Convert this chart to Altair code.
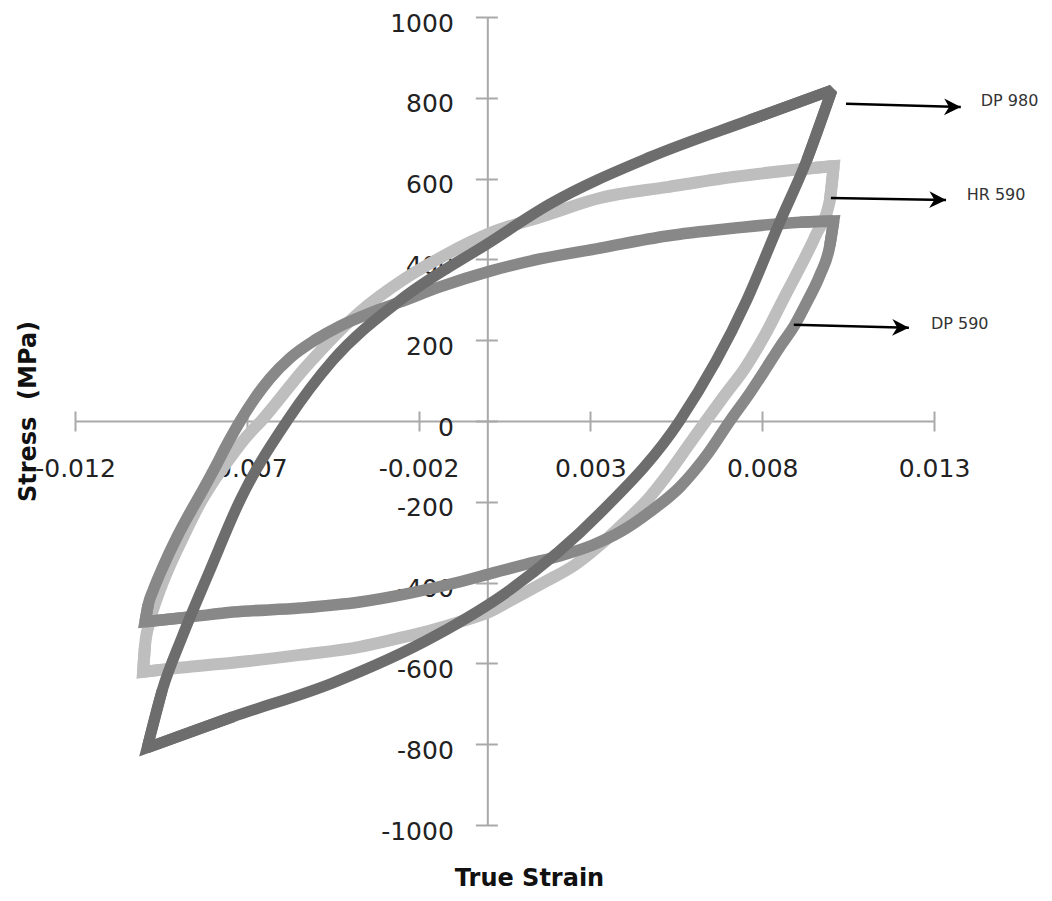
import altair as alt
import pandas as pd

# ---------------- data ----------------
# Each loop = rising branch (compression tip -> tension tip) + falling branch (tension tip -> compression tip)
# DP 980
dp980_up_strain = [-0.00990, -0.00946, -0.00888, -0.00807, -0.00719, -0.00583, -0.00449, -0.00254,
                   0.00008, 0.00182, 0.00473, 0.00764, 0.01003]
dp980_up_stress = [-809, -666, -534, -369, -195, 0, 151, 299, 443, 537, 653, 745, 819]
dp980_dn_strain = [0.01003, 0.00930, 0.00851, 0.00755, 0.00561, 0.00328, 0.00066, -0.00152, -0.00449,
                   -0.00740, -0.00990]
dp980_dn_stress = [819, 646, 492, 299, 2, -228, -418, -532, -648, -732, -809]

# HR 590
hr590_up_strain = [-0.01002, -0.00996, -0.00981, -0.00958, -0.00923, -0.00882, -0.00842, -0.00798,
                   -0.00749, -0.00702, -0.00656, -0.00531, -0.00371, -0.00246, -0.00129, 0.00017,
                   0.00162, 0.00328, 0.00523, 0.00715, 0.00910, 0.01008]
hr590_up_stress = [-621, -554, -492, -430, -356, -282, -213, -151, -92, -40, 2, 131, 270, 349, 408, 468,
                   507, 552, 579, 604, 623, 631]
hr590_dn_strain = [0.01008, 0.00997, 0.00956, 0.00909, 0.00860, 0.00808, 0.00750, 0.00691, 0.00636,
                   0.00584, 0.00526, 0.00468, 0.00400, 0.00328, 0.00255, 0.00168, 0.00081, 0.00005,
                   -0.00079, -0.00158, -0.00254, -0.00371, -0.00545, -0.00691, -0.00836, -0.00953, -0.01002]
hr590_dn_stress = [631, 547, 460, 379, 299, 213, 131, 64, 0, -62, -131, -193, -250, -307, -356, -398,
                   -438, -473, -497, -517, -537, -559, -579, -594, -606, -616, -621]

# DP 590
dp590_up_strain = [-0.00996, -0.00987, -0.00972, -0.00944, -0.00903, -0.00866, -0.00828, -0.00793,
                   -0.00755, -0.00719, -0.00676, -0.00632, -0.00574, -0.00502, -0.00429, -0.00342,
                   -0.00255, -0.00138, 0.00008, 0.00153, 0.00328, 0.00523, 0.00715, 0.00910, 0.01008]
dp590_up_stress = [-497, -455, -418, -361, -287, -228, -171, -116, -54, 0, 57, 106, 156, 200, 235, 267,
                   294, 332, 371, 401, 428, 458, 477, 492, 495]
dp590_dn_strain = [0.01008, 0.00997, 0.00968, 0.00933, 0.00895, 0.00851, 0.00808, 0.00764, 0.00706,
                   0.00639, 0.00561, 0.00473, 0.00386, 0.00307, 0.00211, 0.00115, 0.00017, -0.00079,
                   -0.00225, -0.00371, -0.00545, -0.00740, -0.00865, -0.00996]
dp590_dn_stress = [495, 435, 361, 299, 238, 183, 126, 69, 0, -84, -163, -225, -275, -307, -334, -354,
                   -376, -398, -426, -448, -463, -473, -485, -497]

# annotation arrows and labels
label_names = ["DP 980", "HR 590", "DP 590"]
arrow_x0 = [0.01044, 0.01000, 0.00892]
arrow_y0 = [785, 552, 238]
arrow_x1 = [0.01378, 0.01335, 0.01227]
arrow_y1 = [777, 547, 231]
label_x = [0.01436, 0.01395, 0.01291]
label_y = [792, 559, 241]

# axis ticks
x_ticks = [-0.012, -0.007, -0.002, 0.003, 0.008, 0.013]
y_ticks = [-1000, -800, -600, -400, -200, 0, 200, 400, 600, 800, 1000]

# ---------------- build tables ----------------
def loop_df(up_x, up_y, dn_x, dn_y):
    return pd.DataFrame({
        "strain": list(up_x) + list(dn_x),
        "stress": list(up_y) + list(dn_y),
        "branch": ["up"] * len(up_x) + ["down"] * len(dn_x),
    })


def corner_df(up_x, up_y, dn_x, dn_y):
    # the two reversal tips, each as three neighbouring points of the loop
    top_x = [up_x[-2], up_x[-1], dn_x[1]]
    top_y = [up_y[-2], up_y[-1], dn_y[1]]
    bot_x = [dn_x[-2], dn_x[-1], up_x[1]]
    bot_y = [dn_y[-2], dn_y[-1], up_y[1]]
    return pd.DataFrame({
        "strain": top_x + bot_x, "stress": top_y + bot_y,
        "tip": ["top"] * 3 + ["bottom"] * 3, "idx": [0, 1, 2, 0, 1, 2],
    })


loops = {
    "DP 980": (dp980_up_strain, dp980_up_stress, dp980_dn_strain, dp980_dn_stress),
    "HR 590": (hr590_up_strain, hr590_up_stress, hr590_dn_strain, hr590_dn_stress),
    "DP 590": (dp590_up_strain, dp590_up_stress, dp590_dn_strain, dp590_dn_stress),
}

df_ann = pd.DataFrame({"name": label_names, "x0": arrow_x0, "y0": arrow_y0,
                       "x1": arrow_x1, "y1": arrow_y1, "lx": label_x, "ly": label_y})

# ---------------- chart ----------------
W, H = 859, 808
PAD_L, PAD_T = 67, 9
xs = alt.Scale(domain=[-0.012, 0.013], nice=False, zero=False)
ys = alt.Scale(domain=[-1000, 1000], nice=False, zero=False)

AX = "#a9a9a9"
FONT = "DejaVu Sans"
x_zero_off = -(H / 2)                 # move x axis up to stress = 0
y_zero_px = W * 0.012 / 0.025         # pixel of strain = 0 from the plot's left edge
left_abs = 8 + PAD_L                  # plot's left edge on the page
MINUS = "\u2212"

x_axis_main = alt.Axis(
    orient="bottom", offset=x_zero_off, values=x_ticks,
    labelExpr=f"replace(format(datum.value, '.3f'), '{MINUS}', '-')",
    grid=False, domainColor=AX, domainWidth=2, tickColor=AX, tickWidth=2, tickSize=10,
    labelFont=FONT, labelFontSize=25, labelColor="#222222", labelPadding=25,
    labelFlush=False, labelOverlap=False,
    title="True Strain", titleFont=FONT, titleFontSize=24, titleFontWeight="bold",
    titleColor="#111111", titleX=454, titleY=457, titleAlign="center", titleBaseline="middle",
    titleAnchor="middle", titleAngle=0,
)
y_axis_main = alt.Axis(
    orient="left", offset=-y_zero_px, values=y_ticks,
    labelExpr=f"replace(format(datum.value, 'd'), '{MINUS}', '-')",
    grid=False, domainColor=AX, domainWidth=2, tickColor=AX, tickWidth=2, tickSize=12,
    labelFont=FONT, labelFontSize=25, labelColor="#222222", labelPadding=22, labelOffset=6,
    labelFlush=False, labelOverlap=False,
    title="Stress\u00a0 (MPa)", titleFont=FONT, titleFontSize=24, titleFontWeight="bold",
    titleColor="#111111", titleX=28 - (left_abs + y_zero_px), titleY=394, titleAlign="center",
    titleBaseline="middle", titleAngle=270,
)
x_axis_top = alt.Axis(
    orient="top", offset=x_zero_off, values=x_ticks, grid=False, domain=False, labels=False,
    tickColor=AX, tickWidth=2, tickSize=10, title=None,
)
y_axis_right = alt.Axis(
    orient="right", offset=-(W - y_zero_px), values=y_ticks, grid=False, domain=False, labels=False,
    tickColor=AX, tickWidth=2, tickSize=10, title=None,
)


def loop_layers(name, color, width, xaxis, yaxis):
    arrs = loops[name]
    curve = alt.Chart(loop_df(*arrs)).mark_line(
        color=color, strokeWidth=width, strokeCap="butt", clip=False, interpolate="monotone",
    ).encode(
        x=alt.X("strain:Q", scale=xs, axis=xaxis),
        y=alt.Y("stress:Q", scale=ys, axis=yaxis),
        detail="branch:N",
    )
    corner = alt.Chart(corner_df(*arrs)).mark_line(
        color=color, strokeWidth=width, strokeCap="butt", strokeJoin="miter",
        strokeMiterLimit=2.2, clip=False,
    ).encode(
        x=alt.X("strain:Q", scale=xs, axis=None),
        y=alt.Y("stress:Q", scale=ys, axis=None),
        detail="tip:N",
        order=alt.Order("idx:Q"),
    )
    return [curve, corner]


hr = loop_layers("HR 590", "#bebebe", 12, x_axis_main, y_axis_main)
dp5 = loop_layers("DP 590", "#888888", 11.5, x_axis_top, y_axis_right)
dp9 = loop_layers("DP 980", "#6d6d6d", 11, None, None)

arrows = alt.Chart(df_ann).mark_rule(color="black", strokeWidth=2.5).encode(
    x=alt.X("x0:Q", scale=xs, axis=None), y=alt.Y("y0:Q", scale=ys, axis=None),
    x2="x1:Q", y2="y1:Q",
)
heads = alt.Chart(df_ann).mark_point(
    shape="M0,0L-2,-1L-1.4,0L-2,1Z", filled=True, size=280, color="black", opacity=1, angle=1
).encode(
    x=alt.X("x1:Q", scale=xs, axis=None), y=alt.Y("y1:Q", scale=ys, axis=None),
)
labels = alt.Chart(df_ann).mark_text(
    align="left", baseline="middle", font=FONT, fontSize=16, color="#333333"
).encode(
    x=alt.X("lx:Q", scale=xs, axis=None), y=alt.Y("ly:Q", scale=ys, axis=None),
    text="name:N",
)

chart = alt.layer(*hr, *dp5, *dp9, arrows, heads, labels).resolve_axis(
    x="independent", y="independent"
).properties(
    width=W, height=H,
    autosize=alt.AutoSizeParams(type="none"),
    padding={"left": PAD_L, "top": PAD_T, "right": 108, "bottom": 66},
    background="white",
).configure_view(stroke=None)

chart.save("out.html", embed_options={"renderer": "svg", "actions": False})
